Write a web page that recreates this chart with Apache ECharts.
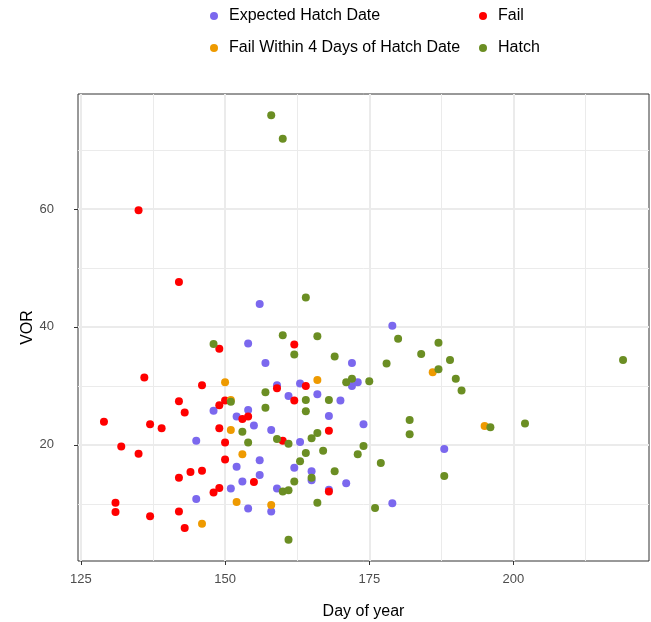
<!DOCTYPE html>
<html>
<head>
<meta charset="utf-8">
<script src="https://cdn.jsdelivr.net/npm/echarts@6/dist/echarts.min.js"></script>
<style>html,body{margin:0;padding:0;background:#fff}#main{width:651px;height:622px}</style>
</head>
<body>
<div id="main"></div>
<script>
const seriesNames = ['Expected Hatch Date', 'Fail', 'Fail Within 4 Days of Hatch Date', 'Hatch'];
const seriesColors = ['#7B68EE', '#FF0000', '#EE9A00', '#6B8E23'];

const expectedHatch = [
  [156,43.9],[154,37.2],[157,33.9],[159,30.1],[161,28.3],[148,25.8],[154,25.9],[152,24.8],
  [155,23.3],[158,22.5],[145,20.7],[156,17.4],[152,16.3],[156,14.9],[153,13.8],[151,12.6],
  [159,12.6],[145,10.8],[158,8.7],[154,9.2],[172,33.9],[172,30.0],[173,30.6],[163,30.4],
  [166,28.6],[170,27.5],[168,24.9],[174,23.5],[163,20.5],[162,16.1],[165,15.5],[165,14.0],
  [171,13.5],[168,12.4],[179,40.2],[188,19.3],[179,10.1]
];
const fail = [
  [135,59.8],[142,47.6],[149,36.3],[136,31.4],[146,30.1],[142,27.4],[150,27.5],[149,26.7],
  [143,25.5],[129,23.9],[137,23.5],[139,22.8],[149,22.8],[132,19.7],[135,18.5],[150,20.4],
  [150,17.5],[144,15.4],[146,15.6],[142,14.4],[155,13.7],[149,12.7],[148,11.9],[131,10.2],
  [131,8.6],[137,7.9],[142,8.7],[143,5.9],[159,29.6],[153,24.4],[154,24.8],[160,20.7],
  [162,37.0],[164,30.0],[162,27.5],[168,22.4],[168,12.1]
];
const failWithin4 = [
  [150,30.6],[151,27.6],[151,22.5],[153,18.4],[152,10.3],[158,9.8],[146,6.6],[166,31.0],
  [186,32.3],[195,23.2]
];
const hatch = [
  [158,75.9],[160,71.9],[164,45.0],[148,37.1],[160,38.6],[166,38.4],[162,35.3],[169,35.0],
  [157,28.9],[151,27.3],[157,26.3],[153,22.2],[154,20.4],[159,21.0],[161,20.2],[161,3.9],
  [160,12.1],[161,12.3],[171,30.6],[172,31.2],[175,30.8],[164,27.6],[168,27.6],[164,25.7],
  [165,21.1],[166,22.0],[164,18.6],[167,19.0],[174,19.8],[173,18.4],[177,16.9],[163,17.2],
  [165,14.4],[169,15.5],[162,13.8],[166,10.2],[176,9.3],[180,38.0],[178,33.8],[184,35.4],
  [187,37.3],[189,34.4],[187,32.8],[190,31.2],[191,29.2],[182,24.2],[182,21.8],[188,14.7],
  [196,23.0],[202,23.6],[219,34.4]
];
const seriesData = [expectedHatch, fail, failWithin4, hatch];

const xTicks = [125, 150, 175, 200];
const xMinor = [137.5, 162.5, 187.5, 212.5];
const yTicks = [20, 40, 60];
const yMinor = [10, 30, 50, 70];

const gridLines = [];
xMinor.forEach(v => gridLines.push({xAxis: v, lineStyle: {color: '#EBEBEB', width: 1, type: 'solid'}}));
yMinor.forEach(v => gridLines.push({yAxis: v, lineStyle: {color: '#EBEBEB', width: 1, type: 'solid'}}));
xTicks.forEach(v => gridLines.push({xAxis: v, lineStyle: {color: '#EBEBEB', width: 2, type: 'solid'}}));
yTicks.forEach(v => gridLines.push({yAxis: v, lineStyle: {color: '#EBEBEB', width: 2, type: 'solid'}}));

const legendCommon = {
  orient: 'vertical', top: 3, itemWidth: 8, itemHeight: 18, itemGap: 16, icon: 'circle',
  symbolKeepAspect: true,
  textStyle: {fontFamily: 'Liberation Sans, Arial, sans-serif', fontSize: 16, color: '#000', padding: [0,0,0,6]}
};

const chart = echarts.init(document.getElementById('main'), null, {renderer: 'canvas'});
chart.setOption({
  animation: false,
  backgroundColor: '#fff',
  textStyle: {fontFamily: 'Liberation Sans, Arial, sans-serif'},
  legend: [
    Object.assign({}, legendCommon, {left: 205, data: ['Expected Hatch Date', 'Fail Within 4 Days of Hatch Date']}),
    Object.assign({}, legendCommon, {left: 474, data: ['Fail', 'Hatch']})
  ],
  grid: {left: 78, top: 94, right: 2, bottom: 61, containLabel: false, outerBoundsMode: 'none',
         show: true, borderColor: '#333333', borderWidth: 1, backgroundColor: '#fff'},
  xAxis: {
    type: 'value', min: 124.5, max: 223.5,
    name: 'Day of year', nameLocation: 'middle', nameGap: 43, nameMoveOverlap: false,
    nameTextStyle: {fontSize: 16, color: '#000'},
    axisLine: {show: false},
    axisTick: {show: true, customValues: xTicks, length: 4, lineStyle: {color: '#333333', width: 1}},
    axisLabel: {customValues: xTicks, fontSize: 13, color: '#4D4D4D', margin: 12},
    splitLine: {show: false}
  },
  yAxis: {
    type: 'value', min: 0.3, max: 79.5,
    name: 'VOR', nameLocation: 'middle', nameGap: 42, nameRotate: 90, nameMoveOverlap: false,
    nameTextStyle: {fontSize: 16, color: '#000'},
    axisLine: {show: false},
    axisTick: {show: true, customValues: yTicks, length: 4, lineStyle: {color: '#333333', width: 1}},
    axisLabel: {customValues: yTicks, fontSize: 13, color: '#4D4D4D', margin: 24},
    splitLine: {show: false}
  },
  series: [
    {
      type: 'scatter', name: '_grid', data: [], z: 1, silent: true,
      markLine: {silent: true, z: 1, symbol: ['none','none'], label: {show: false}, animation: false, data: gridLines}
    }
  ].concat(seriesNames.map((n, i) => ({
    type: 'scatter', name: n, data: seriesData[i], z: 3,
    symbol: 'circle', symbolSize: 8,
    itemStyle: {color: seriesColors[i], opacity: 1}
  })))
});
</script>
</body>
</html>
